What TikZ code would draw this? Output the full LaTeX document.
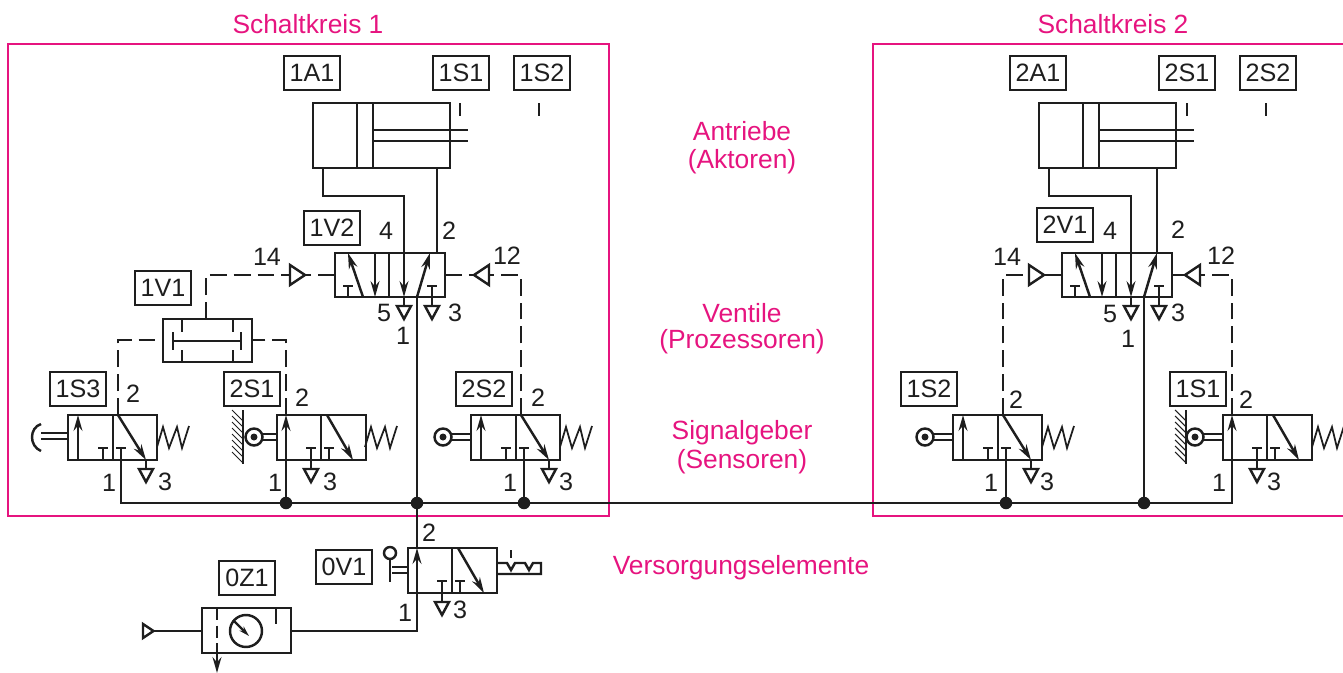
\documentclass[tikz,border=0pt]{standalone}
\usepackage{fontspec}
\setmainfont{Liberation Sans}
\usetikzlibrary{arrows.meta}
\definecolor{schaltpink}{HTML}{E6147F}
\definecolor{schaltink}{HTML}{1E1E1E}
\tikzset{
  frameline/.style={draw=schaltpink, line width=1pt},
  flow/.style={-{Stealth[length=9pt,width=5pt]}},
  pilotline/.style={dash pattern=on 9.6pt off 4pt},
  tag/.style={draw=schaltink, line width=.9pt, minimum width=1.12cm, minimum height=.68cm, inner sep=0pt, font=\fontsize{14.3}{16}\selectfont, text=schaltink},
  num/.style={inner sep=0pt, font=\fontsize{14.3}{16}\selectfont, text=schaltink},
  pinktext/.style={inner sep=0pt, font=\fontsize{15}{17}\selectfont, text=schaltpink},
  junction/.style={circle, fill=schaltink, minimum size=.25cm, inner sep=0pt},
  pics/exhaust/.style={code={
    \draw (0,0) -- (0,9);
    \draw (-7,9) -- (7,9) -- (0,22) -- cycle;
  }},
  pics/pilot/.style={code={
    \draw (0,-10) -- (15,0) -- (0,10) -- cycle;
    \coordinate (-a) at (0,0);
    \coordinate (-b) at (15,0);
  }},
  pics/spring/.style={code={
    \draw[line width=1pt] (0,32) -- (6,12) -- (12,33) -- (20,12) -- (25,33) -- (32,11);
  }},
  pics/valvea/.style={code={
    \draw (0,0) rectangle (89,45);
    \draw (45,0) -- (45,45);
    \draw[flow] (10,45) -- (10,0);
    \draw (35,45) -- (35,33) (30,33) -- (40,33) (48,33) -- (58,33);
    \draw[flow] (50,0) -- (78,45);
    \pic at (78,45) {exhaust};
    \pic at (89,0) {spring};
    \coordinate (-p2) at (50,0);
    \coordinate (-p1) at (53,33);
  }},
  pics/valveb/.style={code={
    \draw (0,0) rectangle (89,45);
    \draw (44,0) -- (44,45);
    \draw[flow] (9,45) -- (9,0);
    \draw (34,45) -- (34,33) (29,33) -- (39,33) (52,45) -- (52,33) (47,33) -- (57,33);
    \draw[flow] (50,0) -- (76,45);
    \pic at (34,45) {exhaust};
    \coordinate (-p2) at (9,0);
    \coordinate (-p1) at (9,45);
  }},
  pics/roller/.style={code={
    \draw (0,0) circle (8.5);
    \fill (0,0) circle (3.5);
    \draw (8,-3) -- (#1,-3) (8,3) -- (#1,3);
  }},
  pics/wall/.style={code={
    \draw (0,0) -- (0,54);
    \foreach \i in {0,6,...,42}
      \draw[line width=.6pt] (-11,\i) -- (0,\i+11);
  }},
  pics/cylinder/.style={code={
    \draw (0,0) rectangle (137,65);
    \draw (44,0) -- (44,65) (60,0) -- (60,65);
    \draw (60,27) -- (155,27) (60,38) -- (155,38);
  }},
  pics/fivetwo/.style={code={
    \draw (0,0) rectangle (110,44);
    \draw (54,0) -- (54,44);
    \draw[flow] (28,44) -- (13,0);
    \draw[flow] (40,0) -- (40,44);
    \draw (13,44) -- (13,33) (8,33) -- (18,33);
    \draw[flow] (69,0) -- (69,44);
    \draw[flow] (82,44) -- (95,0);
    \draw (92,33) -- (102,33);
    \pic at (69,44) {exhaust};
    \draw (97,33) -- (97,44);
    \pic at (97,44) {exhaust};
    \coordinate (-p4) at (69,0);
    \coordinate (-p1) at (82,44);
    \coordinate (-l) at (0,22);
    \coordinate (-r) at (110,22);
  }}
}
\begin{document}
\begin{tikzpicture}[x=.02cm, y=-.02cm, line width=1.4pt, draw=schaltink, fill=schaltink, line join=miter]
\clip (0,0) rectangle (1343,673);
\draw[frameline] (8,44) rectangle (609,516);
\draw[frameline] (1350,44) -- (873,44) -- (873,516) -- (1350,516);
\node[pinktext] (kreis1) at (308,24){Schaltkreis 1};
\node[pinktext] (kreis2) at (1113,24){Schaltkreis 2};
\node[pinktext] (antr0) at (742,131){Antriebe};
\node[pinktext] (antr1) at (742,162){(Aktoren)};
\node[pinktext] (vent0) at (742,313){Ventile};
\node[pinktext] (vent1) at (742,342){(Prozessoren)};
\node[pinktext] (sign0) at (742,433){Signalgeber};
\node[pinktext] (sign1) at (742,462){(Sensoren)};
\node[pinktext] (vers0) at (741,568){Versorgungselemente};
\node[tag] (t1A1) at (312,73){1A1};
\node[tag] (t1S1) at (461,73){1S1};
\node[tag] (t1S2) at (542,73){1S2};
\node[tag] (t1V2) at (332,228){1V2};
\node[tag] (t1V1) at (163,288){1V1};
\node[tag] (t1S3) at (78,389){1S3};
\node[tag] (t2S1) at (252,389){2S1};
\node[tag] (t2S2) at (484,389){2S2};
\node[tag] (t0V1) at (344,567){0V1};
\node[tag] (t0Z1) at (247,578){0Z1};
\node[tag] (u2A1) at (1038,73){2A1};
\node[tag] (u2S1) at (1187,73){2S1};
\node[tag] (u2S2) at (1268,73){2S2};
\node[tag] (u2V1) at (1065,225){2V1};
\node[tag] (u1S2) at (929,389){1S2};
\node[tag] (u1S1) at (1198,389){1S1};
\pic (cylA) at (313,103) {cylinder};
\pic (cylB) at (1039,103) {cylinder};
\draw (460,103) -- (460,116);
\draw (539,103) -- (539,116);
\draw (1187,103) -- (1187,116);
\draw (1266,103) -- (1266,116);
\pic (valA) at (335,253) {fivetwo};
\pic (valB) at (1062,253) {fivetwo};
\pic (sa) at (68,415) {valvea};
\pic (sb) at (277,415) {valveb};
\pic at (365,415) {spring};
\pic (sc) at (471,415) {valvea};
\pic (sd) at (953,415) {valvea};
\pic (se) at (1223,415) {valveb};
\pic at (1312,415) {spring};
\pic (sz) at (408,548) {valveb};
\pic at (254,437) {roller={23}};
\pic at (243,410) {wall};
\pic at (443,437) {roller={28}};
\pic at (925,437) {roller={28}};
\pic at (1195,437) {roller={28}};
\pic at (1186,410) {wall};
\draw (68,433) -- (41,433) (68,439) -- (41,439);
\draw (41,424) .. controls (29,428) and (29,446) .. (41,451);
\coordinate (shL) at (163,340);
\coordinate (shR) at (252,340);
\coordinate (shO) at (206,319);
\draw (163,319) rectangle (252,362);
\draw (182,319) -- (182,332) (182,350) -- (182,362);
\draw (233,319) -- (233,332) (233,350) -- (233,362);
\draw (173,332) -- (173,350) (241,332) -- (241,350) (173,341) -- (241,341);
\pic (pa) at (290,275) {pilot};
\pic[xscale=-1] (pb) at (489,275) {pilot};
\pic (pc) at (1029,275) {pilot};
\pic[xscale=-1] (pd) at (1200,275) {pilot};
\draw[pilotline] (sa-p2) |- (shL);
\draw[pilotline] (sb-p2) |- (shR);
\draw[pilotline] (shO) |- (pa-a);
\draw[pilotline] (valA-l) -- (pa-b);
\draw[pilotline] (valA-r) -- (pb-b);
\draw[pilotline] (sc-p2) |- (pb-a);
\draw[pilotline] (sd-p2) |- (pc-a);
\draw (pc-b) -- (valB-l);
\draw (pd-b) -- (valB-r);
\draw[pilotline] (se-p2) |- (pd-a);
\coordinate (bendA) at (323,196);
\coordinate (bendB) at (1049,196);
\coordinate (cyl2A) at (437,168);
\coordinate (val2A) at (437,253);
\coordinate (cyl2B) at (1157,168);
\coordinate (val2B) at (1157,253);
\draw (323,168) -- (bendA) -| (valA-p4);
\draw (1049,168) -- (bendB) -| (valB-p4);
\draw (cyl2A) -- (val2A);
\draw (cyl2B) -- (val2B);
\node[junction] (ja) at (286,503){};
\node[junction] (jb) at (417,503){};
\node[junction] (jc) at (524,503){};
\node[junction] (jd) at (1006,503){};
\node[junction] (je) at (1144,503){};
\coordinate (busend) at (1232,503);
\draw (sa-p1) |- (busend) -- (se-p1);
\draw (sb-p1) -- (ja.center);
\draw (sc-p1) -- (jc.center);
\draw (sd-p1) -- (jd.center);
\draw (valB-p1) -- (je.center);
\draw (valA-p1) -- (jb.center) -- (sz-p2);
\draw (408,567) -- (392,567);
\draw (408,573) -- (392,573);
\draw (390,559) -- (390,582);
\draw (390,553) circle (6);
\draw (496,563) -- (507,563) -- (511,570) -- (515,563) -- (525,563) -- (529,570) -- (533,563) -- (541,563) -- (541,574) -- (496,574);
\draw (511,550) -- (511,558);
\draw (202,608) rectangle (291,653);
\draw[dash pattern=on 7pt off 3pt] (217,608) -- (217,653);
\coordinate (drainZ) at (217,653);
\coordinate (drainE) at (217,673);
\draw[flow] (drainZ) -- (drainE);
\draw (246,631) circle (16);
\draw[-{Stealth[length=6pt,width=3.4pt]}] (233,620) -- (249,636);
\draw (276,608) -- (276,624);
\coordinate (outZ) at (291,631);
\coordinate (inZ) at (202,631);
\draw (outZ) -| (sz-p1);
\pic[scale=.7] (pz) at (143,631) {pilot};
\draw (pz-b) -- (inZ);
\node[num] (n2a) at (133,394){2};
\node[num] (n1a) at (109,483){1};
\node[num] (n3a) at (165,482){3};
\node[num] (n2b) at (302,398){2};
\node[num] (n1b) at (275,483){1};
\node[num] (n3b) at (330,482){3};
\node[num] (n2c) at (538,398){2};
\node[num] (n1c) at (510,483){1};
\node[num] (n3c) at (566,482){3};
\node[num] (n14a) at (267,257){14};
\node[num] (n4a) at (386,231){4};
\node[num] (n2d) at (449,231){2};
\node[num] (n12a) at (507,256){12};
\node[num] (n5a) at (384,313){5};
\node[num] (n3d) at (455,313){3};
\node[num] (n1d) at (403,336){1};
\node[num] (n14b) at (1007,257){14};
\node[num] (n4b) at (1110,231){4};
\node[num] (n2e) at (1178,230){2};
\node[num] (n12b) at (1221,256){12};
\node[num] (n5b) at (1110,314){5};
\node[num] (n3e) at (1178,313){3};
\node[num] (n1e) at (1128,339){1};
\node[num] (n2f) at (1016,400){2};
\node[num] (n1f) at (991,483){1};
\node[num] (n3f) at (1047,482){3};
\node[num] (n2g) at (1246,400){2};
\node[num] (n1g) at (1219,483){1};
\node[num] (n3g) at (1274,482){3};
\node[num] (n2z) at (429,533){2};
\node[num] (n1z) at (405,613){1};
\node[num] (n3z) at (460,610){3};
\end{tikzpicture}
\end{document}
